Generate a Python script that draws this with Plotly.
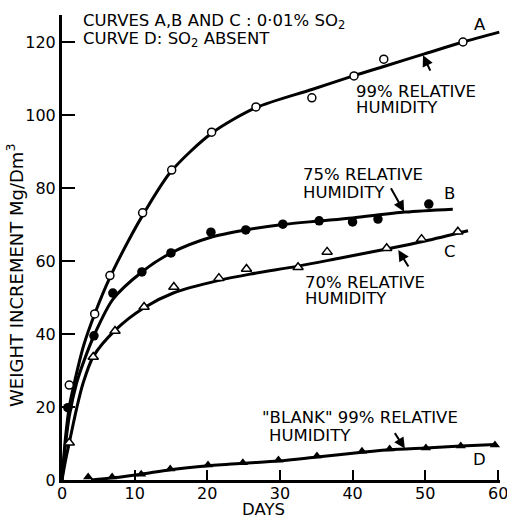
import plotly.graph_objects as go

# ---- measured points ----
days_a = [1.0, 4.5, 6.6, 11.1, 15.1, 20.6, 26.7, 34.4, 40.2, 44.3, 55.2]
wt_a = [26.0, 45.5, 56.0, 73.2, 84.9, 95.3, 102.2, 104.7, 110.7, 115.3, 120.0]

days_b = [0.8, 4.4, 7.0, 11.0, 15.0, 20.5, 25.3, 30.4, 35.4, 40.0, 43.5, 50.5]
wt_b = [19.8, 39.5, 51.2, 57.0, 62.2, 67.9, 68.5, 70.1, 71.0, 70.7, 71.5, 75.6]

days_c = [1.0, 4.3, 7.3, 11.3, 15.4, 21.6, 25.4, 32.5, 36.5, 44.7, 49.5, 54.5]
wt_c = [10.2, 33.7, 40.8, 47.4, 52.9, 55.3, 57.8, 58.3, 62.5, 63.5, 66.0, 68.0]

days_d = [3.6, 6.9, 10.9, 14.9, 20.1, 24.9, 29.8, 35.1, 41.3, 45.1, 50.1, 54.9, 59.6]
wt_d = [0.8, 0.8, 1.6, 3.0, 4.1, 4.7, 5.5, 6.6, 7.9, 8.5, 8.8, 9.3, 9.6]

# ---- fitted (hand-drawn) curves ----
fit_a_x = [0, 0.5, 1, 1.8, 3, 4.5, 6.6, 9, 11.1, 15, 20.6, 26.7, 34.4, 40.2, 44.3, 50, 55.2, 60.2]
fit_a_y = [0, 12, 20, 27.5, 37, 45.5, 55.5, 65, 72.5, 84.5, 95, 102, 107, 110.8, 113.3, 116.8, 120, 122.7]

fit_b_x = [0, 0.5, 1, 2, 3, 4.5, 7, 11, 15, 20.5, 25.3, 30.4, 35, 40, 47.2, 53.8]
fit_b_y = [0, 10, 17.5, 26.5, 32.5, 40, 49.5, 57, 62.2, 66.5, 68.5, 70, 70.9, 71.8, 73.4, 74.2]

fit_c_x = [0, 0.5, 1, 2, 2.9, 4.3, 7.3, 11.3, 15.4, 21.6, 25.9, 32.5, 38, 44.7, 50, 55.9]
fit_c_y = [0, 5.5, 10.2, 19.5, 26.5, 33.8, 41, 47.2, 51.3, 54.7, 56.4, 58.6, 60.7, 63.3, 65.5, 68.3]

fit_d_x = [4, 7, 10.9, 14.9, 20.1, 24.9, 29.8, 35.1, 41.3, 45.1, 50.1, 54.9, 59.7]
fit_d_y = [0, 0.6, 1.6, 2.8, 3.9, 4.6, 5.2, 6.3, 7.6, 8.3, 8.8, 9.3, 9.7]

x_ticks = [0, 10, 20, 30, 40, 50, 60]
x_ticktext = ["0", "10", "20", "30", "40", "50", ""]  # "60" drawn as annotation (edge)
y_ticks = [0, 20, 40, 60, 80, 100, 120]

FONT = "DejaVu Sans"
FS = 16.5

fig = go.Figure()
for fx, fy in [(fit_a_x, fit_a_y), (fit_b_x, fit_b_y), (fit_c_x, fit_c_y), (fit_d_x, fit_d_y)]:
    fig.add_trace(go.Scatter(x=fx, y=fy, mode="lines",
                             line=dict(color="black", width=3, shape="spline", smoothing=0.8),
                             hoverinfo="skip", cliponaxis=False))

fig.add_trace(go.Scatter(x=days_a, y=wt_a, mode="markers", cliponaxis=False,
                         marker=dict(symbol="circle", size=8, color="white",
                                     line=dict(color="black", width=1.5))))
fig.add_trace(go.Scatter(x=days_b, y=wt_b, mode="markers", cliponaxis=False,
                         marker=dict(symbol="circle", size=9.5, color="black")))
fig.add_trace(go.Scatter(x=days_c, y=wt_c, mode="markers", cliponaxis=False,
                         marker=dict(symbol="triangle-up", size=9, color="white",
                                     line=dict(color="black", width=1.5))))
fig.add_trace(go.Scatter(x=days_d, y=wt_d, mode="markers", cliponaxis=False,
                         marker=dict(symbol="triangle-up", size=9, color="black")))

tf = dict(family=FONT, size=16, color="black")


def label(text, x, y, xanchor="left", size=FS):
    fig.add_annotation(x=x, y=y, text=text, showarrow=False, xanchor=xanchor,
                       yanchor="middle", borderpad=0,
                       font=dict(family=FONT, size=size, color="black"))


def arrow(x, y, ax, ay):
    fig.add_annotation(x=x, y=y, ax=ax, ay=ay, text="", showarrow=True,
                       arrowhead=2, arrowsize=1.1, arrowwidth=2, arrowcolor="black",
                       standoff=0)


label("CURVES A,B AND C : 0·01% SO<sub>2</sub>", 2.8, 125.6)
label("CURVE D: SO<sub>2</sub> ABSENT", 2.8, 120.6)
label("A", 57.5, 124.9, "center")
label("99% RELATIVE", 40.4, 106.4)
label("HUMIDITY", 40.4, 102.1)
label("75% RELATIVE", 33.1, 83.8)
label("HUMIDITY", 33.1, 78.9)
label("B", 53.4, 78.6, "center")
label("C", 53.4, 62.7, "center")
label("70% RELATIVE", 33.3, 54.1)
label("HUMIDITY", 33.3, 49.6)
label("\"BLANK\" 99% RELATIVE", 27.4, 17.0)
label("HUMIDITY", 28.4, 12.2)
label("D", 57.5, 5.75, "center")

arrow(49.7, 116.4, 8, 17)
arrow(47.1, 73.5, -14, -25)
arrow(46.3, 63.0, 11, 18)
arrow(47.2, 8.6, -11, -17)

# last x tick label at the right edge
fig.add_annotation(x=x_ticks[-1], y=-0.028, xref="x", yref="paper", text=str(x_ticks[-1]),
                   showarrow=False, xanchor="center", yanchor="middle", borderpad=0,
                   font=tf)

fig.add_annotation(x=0.461, y=-0.063, xref="paper", yref="paper", text="DAYS",
                   showarrow=False, xanchor="center", yanchor="middle", borderpad=0,
                   font=dict(family=FONT, size=FS, color="black"))
fig.add_annotation(x=-0.107, y=0.439, xref="paper", yref="paper",
                   text="WEIGHT INCREMENT Mg/Dm<sup>3</sup>", textangle=-90,
                   showarrow=False, xanchor="center", yanchor="middle",
                   font=dict(family=FONT, size=18, color="black"))

fig.update_layout(
    width=507, height=515,
    margin=dict(l=62, r=7, t=15, b=35),
    plot_bgcolor="white", paper_bgcolor="white",
    showlegend=False,
    xaxis=dict(range=[0, 60.3], tickvals=x_ticks, ticktext=x_ticktext, ticks="inside",
               ticklen=10, tickwidth=2,
               tickcolor="black", showline=True, linewidth=3, linecolor="black",
               showgrid=False, zeroline=False, tickfont=tf, ticklabelstandoff=-3),
    yaxis=dict(range=[0, 127.4], tickvals=y_ticks, ticks="inside", ticklen=13, tickwidth=2,
               tickcolor="black", showline=True, linewidth=3, linecolor="black",
               showgrid=False, zeroline=False, tickfont=tf),
)

fig.write_html("out.html")
